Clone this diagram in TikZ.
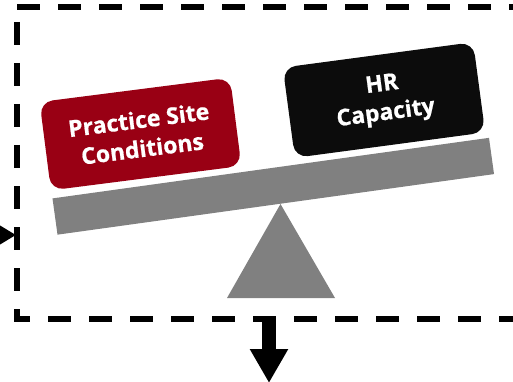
\documentclass[tikz,border=0pt]{standalone}
\usepackage{fontspec}
\setmainfont{Open Sans}[BoldFeatures={FakeBold=0.8}]
\usetikzlibrary{arrows.meta}
\definecolor{siteRed}{RGB}{153,0,20}
\definecolor{capBlack}{RGB}{12,12,12}
\definecolor{beamGray}{RGB}{128,128,128}
\tikzset{
  frameline/.style={line width=5.5pt, dash pattern=on 23pt off 18pt, line cap=butt, line join=miter},
  weightbox/.style={rounded corners=13pt, minimum width=192pt, minimum height=89pt,
    text=white, align=center, inner sep=0pt,
    font=\fontsize{23}{29}\selectfont\bfseries},
  beambar/.style={fill=beamGray, minimum width=440.7pt, minimum height=36.6pt, inner sep=0pt},
  flowarrow/.style={draw=black, line width=5pt},
}
\begin{document}
\begin{tikzpicture}[x=1pt,y=-1pt]
\useasboundingbox (0,0) rectangle (513,382);

% dashed boundary
\draw[frameline] (17,7) -- (540,7);
\draw[frameline] (17,22) -- (17,319) -- (540,319);

% seesaw: beam and fulcrum
\node[beambar, rotate=7.9] (beam) at (273.25,186.25) {};
\coordinate (apex) at (280.5,204);
\coordinate (baseL) at (227,298);
\coordinate (baseR) at (335,298);
\fill[beamGray] (apex) -- (baseR) -- (baseL) -- cycle;

% weights on the beam
\node[weightbox, fill=siteRed, rotate=7.3] (site) at (140.5,134) {Practice Site\\Conditions};
\node[weightbox, fill=capBlack, rotate=7.6, minimum height=91pt] (hr) at (384,100) {HR\\Capacity};

% incoming and outgoing arrows
\coordinate (inL) at (-30,235);
\coordinate (frameL) at (16,235);
\draw[flowarrow, -{Triangle[length=17pt,width=19pt]}] (inL) -- (frameL);
\coordinate (frameB) at (269,316);
\coordinate (outB) at (269,383);
\draw[line width=14pt, -{Triangle[length=34pt,width=36pt]}] (frameB) -- (outB);
\end{tikzpicture}
\end{document}
